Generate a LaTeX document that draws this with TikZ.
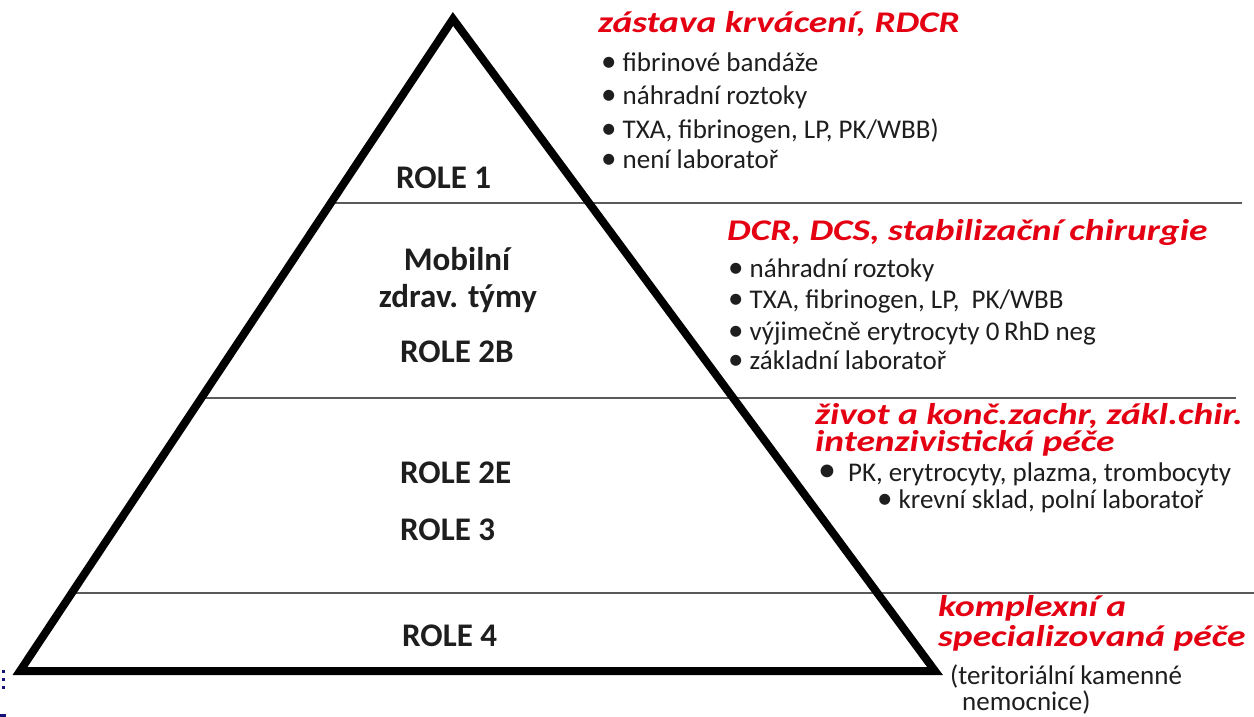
\documentclass[tikz,border=0pt]{standalone}
\usepackage{fontspec}
\setmainfont{Carlito}
\definecolor{redc}{RGB}{228,0,18}
\definecolor{txt}{RGB}{30,30,30}
\definecolor{sepc}{RGB}{90,90,90}
\definecolor{navyc}{RGB}{20,20,120}
\newcommand{\wideR}[1]{\scalebox{1.25}[1]{#1}}
\newcommand{\bul}{{\fontsize{31}{30}\selectfont •}}
\tikzset{
  tri/.style={line width=8pt, line join=miter, draw=black},
  sepline/.style={line width=1.5pt, draw=sepc},
  role/.style={inner sep=0pt, anchor=base west, text=txt, font=\fontsize{33}{36}\selectfont\bfseries},
  rolec/.style={role, anchor=base},
  rtitle/.style={inner sep=0pt, anchor=base west, text=redc, font=\fontsize{30}{32}\selectfont\bfseries\itshape},
  item/.style={inner sep=0pt, anchor=base west, text=txt, font=\fontsize{27}{30}\selectfont},
}
\begin{document}
\begin{tikzpicture}[x=1pt,y=-1pt]
\useasboundingbox (0,0) rectangle (1254,717);
\fill[white] (0,0) rectangle (1254,717);
% corner coordinates
\coordinate (apex) at (453,19);
\coordinate (bl) at (20,671);
\coordinate (br) at (935,671);
\coordinate (s1l) at (331,203);
\coordinate (s1r) at (1242,203);
\coordinate (s2l) at (201,398);
\coordinate (s2r) at (1236,398);
\coordinate (s3l) at (72,593);
\coordinate (s3r) at (1254,593);
\draw[sepline] (s1l) -- (s1r);
\draw[sepline] (s2l) -- (s2r);
\draw[sepline] (s3l) -- (s3r);
\draw[tri] (apex) -- (br) -- (bl) -- cycle;
% slide artefacts at the left edge
\fill[navyc] (1.5,669.5) rectangle (4.5,672.5);
\fill[navyc] (1.5,677.5) rectangle (4.5,680.5);
\fill[navyc] (1.5,685.5) rectangle (4.5,688.5);
\fill[navyc] (0,713.5) rectangle (6,717);
% left labels
\node[role] (r1) at (396,188) {ROLE 1};
\node[rolec] (mob) at (457,270) {Mobilní};
\node[rolec] (zdr) at (458,307) {zdrav. týmy};
\node[role] (r2b) at (400,362) {ROLE 2B};
\node[role] (r2e) at (400,483) {ROLE 2E};
\node[role] (r3) at (400,540) {ROLE 3};
\node[role] (r4) at (402,646) {ROLE 4};
% block 1
\node[rtitle] (t1) at (598,33) {\wideR{zástava krvácení, RDCR}};
\node[item] (b11) at (601,72) {\bul\hspace{6pt}fibrinové bandáže};
\node[item] (b12) at (601,105) {\bul\hspace{6pt}náhradní roztoky};
\node[item] (b13) at (601,138) {\bul\hspace{6pt}TXA, fibrinogen, LP, PK/WBB)};
\node[item] (b14) at (601,168) {\bul\hspace{6pt}není laboratoř};
% block 2
\node[rtitle] (t2) at (727,240) {\wideR{DCR, DCS, stabilizační chirurgie}};
\node[item] (b21) at (728,277) {\bul\hspace{6pt}náhradní roztoky};
\node[item] (b22) at (728,308) {\bul\hspace{6pt}TXA, fibrinogen, LP,\hspace{6pt} PK/WBB};
\node[item] (b23) at (728,340) {\bul\hspace{6pt}výjimečně erytrocyty 0\,RhD neg};
\node[item] (b24) at (728,369) {\bul\hspace{6pt}základní laboratoř};
% block 3
\node[rtitle] (t3a) at (815,424) {\wideR{život a konč.zachr, zákl.chir.}};
\node[rtitle] (t3b) at (815,451) {\wideR{intenzivistická péče}};
\node[item] (b31) at (818,481) {{\fontsize{36}{30}\selectfont •}\hspace{12pt}PK, erytrocyty, plazma, trombocyty};
\node[item] (b32) at (877,508) {\bul\hspace{6pt}krevní sklad, polní laboratoř};
% block 4
\node[rtitle] (t4a) at (938,616) {\wideR{komplexní a}};
\node[rtitle] (t4b) at (938,646) {\wideR{specializovaná péče}};
\node[item] (n4a) at (950,684) {(teritoriální kamenné};
\node[item] (n4b) at (962,710) {nemocnice)};
\end{tikzpicture}
\end{document}
